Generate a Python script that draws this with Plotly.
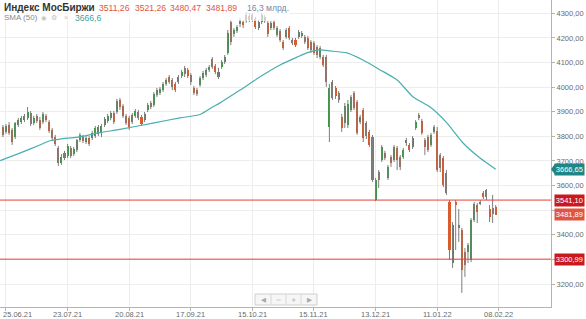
import plotly.graph_objects as go

# ---------------- data ----------------
opens = [3838, 3818, 3846, 3826, 3797, 3846, 3858, 3866, 3875, 3895,
         3854, 3883, 3866, 3858, 3883, 3858, 3826, 3797, 3753, 3692,
         3732, 3720, 3753, 3728, 3745, 3785, 3797, 3777, 3793, 3793,
         3801, 3810, 3814, 3846, 3862, 3875, 3895, 3899, 3948, 3923,
         3883, 3875, 3858, 3883, 3899, 3879, 3866, 3907, 3936, 3927,
         3968, 3976, 3988, 4013, 4041, 4029, 4013, 4021, 4045, 4078,
         4070, 4049, 3997, 3988, 4009, 4037, 4049, 4070, 4114, 4086,
         4041, 4082, 4102, 4139, 4265, 4216, 4228, 4256, 4265, 4269,
         4289, 4273, 4277, 4240, 4265, 4285, 4261, 4240, 4265, 4212,
         4228, 4183, 4204, 4240, 4191, 4191, 4204, 4208, 4204, 4200,
         4183, 4179, 4163, 4122, 4122, 4122, 3838, 4021, 3997, 3976,
         3879, 3854, 3846, 3907, 3976, 3940, 3858, 3907, 3854, 3818,
         3797, 3541, 3655, 3704, 3732, 3631, 3716, 3704, 3753, 3716,
         3716, 3773, 3765, 3757, 3834, 3887, 3862, 3785, 3797, 3765,
         3818, 3822, 3724, 3712, 3651, 3533, 3285, 3533, 3428, 3420,
         3330, 3330, 3298, 3460, 3521, 3529, 3570, 3582, 3505, 3509,
         3511.26]
highs = [3846, 3850, 3858, 3834, 3858, 3875, 3883, 3891, 3919, 3903,
         3883, 3891, 3879, 3899, 3891, 3866, 3834, 3806, 3761, 3728,
         3741, 3769, 3761, 3757, 3789, 3814, 3806, 3801, 3801, 3822,
         3842, 3846, 3850, 3879, 3891, 3903, 3903, 3952, 3956, 3931,
         3891, 3883, 3895, 3911, 3907, 3887, 3899, 3936, 3944, 3980,
         3997, 4001, 4021, 4037, 4049, 4037, 4021, 4049, 4070, 4086,
         4078, 4057, 4005, 3997, 4045, 4066, 4078, 4090, 4122, 4094,
         4078, 4110, 4131, 4232, 4273, 4240, 4252, 4281, 4273, 4305,
         4301, 4301, 4285, 4273, 4301, 4293, 4269, 4269, 4273, 4248,
         4236, 4191, 4240, 4248, 4200, 4200, 4232, 4228, 4212, 4208,
         4191, 4187, 4171, 4167, 4131, 4131, 4013, 4029, 4005, 3984,
         3891, 3936, 3948, 3968, 3984, 3948, 3887, 3915, 3862, 3826,
         3806, 3631, 3663, 3765, 3741, 3684, 3724, 3765, 3761, 3724,
         3753, 3793, 3773, 3801, 3866, 3895, 3871, 3793, 3806, 3814,
         3846, 3838, 3732, 3720, 3663, 3541, 3452, 3541, 3505, 3428,
         3346, 3367, 3468, 3533, 3529, 3541, 3578, 3586, 3521, 3562,
         3521.26]
lows = [3797, 3810, 3806, 3765, 3789, 3838, 3850, 3858, 3866, 3842,
        3846, 3854, 3826, 3850, 3858, 3814, 3781, 3761, 3680, 3684,
        3704, 3712, 3712, 3720, 3736, 3777, 3773, 3769, 3761, 3785,
        3793, 3801, 3797, 3838, 3854, 3866, 3850, 3891, 3907, 3875,
        3846, 3826, 3850, 3875, 3866, 3842, 3858, 3899, 3911, 3919,
        3960, 3968, 3980, 4005, 4013, 3988, 3980, 4013, 4037, 4041,
        4037, 4009, 3968, 3964, 4001, 4029, 4041, 4061, 4074, 4053,
        4033, 4074, 4094, 4131, 4171, 4204, 4220, 4244, 4240, 4261,
        4265, 4265, 4236, 4232, 4256, 4261, 4204, 4232, 4232, 4204,
        4183, 4151, 4196, 4191, 4171, 4163, 4196, 4200, 4175, 4151,
        4139, 4131, 4118, 4114, 4082, 4001, 3777, 3948, 3952, 3936,
        3818, 3834, 3834, 3899, 3907, 3806, 3850, 3777, 3789, 3757,
        3615, 3537, 3590, 3696, 3704, 3623, 3676, 3696, 3663, 3663,
        3708, 3761, 3736, 3749, 3826, 3866, 3806, 3724, 3736, 3757,
        3810, 3655, 3655, 3594, 3562, 3298, 3265, 3338, 3371, 3164,
        3229, 3285, 3289, 3452, 3448, 3521, 3545, 3541, 3452, 3448,
        3480.47]
closes = [3806, 3842, 3814, 3777, 3854, 3866, 3875, 3883, 3899, 3850,
          3875, 3862, 3834, 3891, 3866, 3822, 3793, 3769, 3692, 3716,
          3712, 3761, 3720, 3749, 3785, 3806, 3781, 3793, 3769, 3814,
          3834, 3838, 3842, 3871, 3883, 3895, 3858, 3944, 3919, 3883,
          3854, 3838, 3887, 3903, 3875, 3850, 3891, 3927, 3919, 3972,
          3988, 3992, 4013, 4029, 4021, 4001, 3988, 4041, 4061, 4053,
          4045, 4021, 3976, 3972, 4037, 4057, 4070, 4082, 4082, 4061,
          4061, 4102, 4122, 4220, 4183, 4232, 4244, 4273, 4252, 4293,
          4273, 4293, 4244, 4265, 4293, 4269, 4216, 4261, 4240, 4240,
          4191, 4159, 4232, 4200, 4179, 4171, 4224, 4220, 4183, 4159,
          4151, 4139, 4131, 4159, 4090, 4021, 3997, 3956, 3964, 3948,
          3834, 3923, 3931, 3960, 3915, 3814, 3879, 3793, 3801, 3765,
          3623, 3623, 3623, 3757, 3712, 3676, 3692, 3757, 3704, 3676,
          3745, 3785, 3745, 3793, 3858, 3875, 3814, 3757, 3745, 3806,
          3838, 3663, 3671, 3602, 3570, 3338, 3440, 3521, 3440, 3257,
          3277, 3359, 3460, 3525, 3493, 3533, 3554, 3554, 3472, 3485,
          3481.89]
volume_text = "16,3 млрд."

# SMA(50) read at sample candle positions
sma_pos = [-0.9, 5.5, 12, 15.3, 18.5, 25, 31.5, 38, 48.7, 57.5, 64, 68.2, 70.5,
           77, 84.4, 90, 95.5, 98.7, 103, 106.2, 111.7, 116.9, 122.5, 128,
           133.2, 138.7, 144.2, 149.4, 154.9, 160]
sma_vals = [3701, 3732, 3765, 3782, 3789, 3798, 3815, 3828, 3854, 3875, 3889, 3920,
            3936, 3988, 4049, 4090, 4122, 4139, 4151, 4147, 4139, 4110, 4070,
            4029, 3960, 3919, 3854, 3773, 3712, 3666.65]
sma_legend_text = "3666,6"

tick_labels = ["25.06.21", "23.07.21", "20.08.21", "17.09.21", "15.10.21",
               "15.11.21", "13.12.21", "11.01.22", "08.02.22"]
price_ticks = [3200, 3300, 3400, 3500, 3600, 3700, 3800, 3900, 4000, 4100, 4200, 4300]
hidden_price_labels = [3300, 3500]   # covered by the level boxes in the original
levels = [3541.10, 3300.99]

# ---------------- styling ----------------
GREEN = "#3a9646"
RED = "#d95a2b"
WICK = "#7d7d7d"
TEAL = "#4aaeae"
FONT = "Liberation Sans, Arial, sans-serif"

n = len(closes)
idx = list(range(n))


def fmt(v):
    return f"{v:.2f}".replace(".", ",")


# wicks
wx, wy = [], []
for i in idx:
    wx += [i, i, None]
    wy += [lows[i], highs[i], None]

up = [i for i in idx if closes[i] >= opens[i]]
dn = [i for i in idx if closes[i] < opens[i]]

fig = go.Figure()
fig.add_trace(go.Scatter(x=wx, y=wy, mode="lines",
                         line=dict(color=WICK, width=1), hoverinfo="skip"))
for group, col in ((up, GREEN), (dn, RED)):
    fig.add_trace(go.Bar(
        x=group,
        base=[min(opens[i], closes[i]) for i in group],
        y=[max(abs(closes[i] - opens[i]), 2.5) for i in group],
        width=0.66, marker=dict(color=col, line=dict(width=0))))
fig.add_trace(go.Scatter(x=sma_pos, y=sma_vals, mode="lines",
                         line=dict(color=TEAL, width=1.2, shape="spline", smoothing=0.6),
                         hoverinfo="skip"))

W, H = 586, 319
ML, MR, MT, MB = 0, 35, 0, 12
PW, PH = W - ML - MR, H - MT - MB
# price scale: 4300 sits 13.3 px below the top, 100 points = 24.61 px
Y_TOP = 4300 + 13.3 / 0.2461
Y_BOT = Y_TOP - PH / 0.2461


def px(x):
    return x / PW


def py(y):
    return 1 - y / PH


shapes = []
for lv in levels:
    shapes.append(dict(type="line", xref="paper", x0=0, x1=1, yref="y", y0=lv, y1=lv,
                       line=dict(color="#e4403a", width=1), layer="above"))
# faded legend background
shapes.append(dict(type="rect", xref="paper", yref="paper", x0=0, x1=px(290),
                   y0=py(21), y1=1, fillcolor="rgba(255,255,255,0.65)",
                   line=dict(width=0), layer="above"))
# navigation buttons
shapes.append(dict(type="rect", xref="paper", yref="paper", x0=px(255), x1=px(317),
                   y0=py(305), y1=py(294), fillcolor="#f6f6f6",
                   line=dict(color="#cfcfcf", width=1), layer="above"))
for bx in (271, 286, 301):
    shapes.append(dict(type="line", xref="paper", yref="paper", x0=px(bx), x1=px(bx),
                       y0=py(305), y1=py(294), line=dict(color="#d8d8d8", width=1),
                       layer="above"))
# teal marker arrow
sma_last = sma_vals[-1]
shapes.append(dict(type="path", xref="paper", yref="y",
                   path=f"M 1.0,{sma_last} L {px(555)},{sma_last + 22} L {px(555)},{sma_last - 22} Z",
                   fillcolor="#1f8585", line=dict(width=0), layer="above"))

ann = []
# legend line 1
ann.append(dict(text="<b>Индекс МосБиржи</b>", x=px(2), y=py(7.5),
                font=dict(size=10, color="#333333", family=FONT)))
for v, xx in zip([opens[-1], highs[-1], lows[-1], closes[-1]], [97, 133, 168, 204]):
    ann.append(dict(text=fmt(v), x=px(xx), y=py(7.5),
                    font=dict(size=8.6, color="#e0553f", family=FONT)))
ann.append(dict(text=volume_text, x=px(245), y=py(7.5),
                font=dict(size=8.6, color="#7589a8", family=FONT)))
# legend line 2
ann.append(dict(text="SMA (50)", x=px(2), y=py(17.5),
                font=dict(size=8, color="#8a8a8a", family=FONT)))
ann.append(dict(text="◉", x=px(39), y=py(17.5),
                font=dict(size=6.5, color="#c4c4c4", family="DejaVu Sans")))
ann.append(dict(text="⚙", x=px(49), y=py(17.5),
                font=dict(size=7, color="#c4c4c4", family="DejaVu Sans")))
ann.append(dict(text="×", x=px(62), y=py(17.5),
                font=dict(size=7, color="#c4c4c4", family=FONT)))
ann.append(dict(text=sma_legend_text, x=px(73), y=py(17.5),
                font=dict(size=8.6, color="#3aa3a3", family=FONT)))
for a in ann:
    a.update(xref="paper", yref="paper", xanchor="left", yanchor="middle",
             showarrow=False)

# price boxes on the right axis
boxes = [(sma_last, "#1f8585"), (levels[0], "#c8191e"),
         (closes[-1], "#e0553f"), (levels[1], "#c8191e")]
for v, col in boxes:
    ann.append(dict(text=fmt(v), xref="paper", x=1, xanchor="left", xshift=3,
                    yref="y", y=v, yanchor="middle", showarrow=False,
                    bgcolor=col, borderpad=0.8,
                    font=dict(size=7.5, color="white", family=FONT)))

# date labels under the axis (first one sits flush with the left edge)
step = 20
tick_pos = [1 + step * k for k in range(len(tick_labels))]
for k, (tp, lab) in enumerate(zip(tick_pos, tick_labels)):
    ann.append(dict(text=lab, xref="x", x=tp, yref="paper", y=py(314.5),
                    xanchor="center" if k else "left", xshift=0 if k else -4,
                    yanchor="middle", showarrow=False, borderpad=0,
                    font=dict(size=7.5, color="#6a6a6a", family=FONT)))

# nav button symbols
for sym, bx in (("◀", 263), ("−", 278.5), ("+", 293.5), ("▶", 309)):
    ann.append(dict(text=sym, xref="paper", yref="paper", x=px(bx), y=py(299.5),
                    xanchor="center", yanchor="middle", showarrow=False,
                    font=dict(size=6.5, color="#a8a8a8", family="DejaVu Sans")))

fig.update_layout(
    width=W, height=H,
    margin=dict(l=ML, r=MR, t=MT, b=MB, pad=0),
    paper_bgcolor="white", plot_bgcolor="white",
    showlegend=False, barmode="overlay", bargap=0,
    shapes=shapes, annotations=ann,
    xaxis=dict(range=[-0.94, 177.95], tickvals=tick_pos, showticklabels=False,
               showgrid=True, gridcolor="#ededed", gridwidth=1,
               showline=True, linecolor="#b4b4b4", linewidth=1, ticks="outside",
               ticklen=3, tickcolor="#b4b4b4", zeroline=False, automargin=False),
    yaxis=dict(range=[Y_BOT, Y_TOP], side="right", tickvals=price_ticks,
               ticktext=["" if v in hidden_price_labels else fmt(v) for v in price_ticks],
               showgrid=True,
               gridcolor="#ededed", gridwidth=1, showline=True, linecolor="#b4b4b4",
               linewidth=1, ticks="outside", ticklen=3, tickcolor="#b4b4b4",
               zeroline=False, automargin=False,
               tickfont=dict(size=7.5, color="#6a6a6a", family=FONT)),
)

fig.write_html("out.html")
